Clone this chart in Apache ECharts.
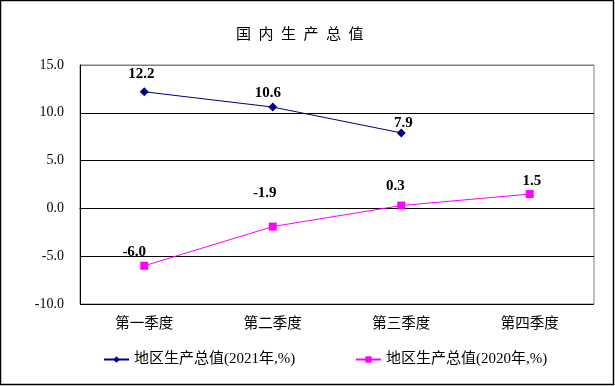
<!DOCTYPE html>
<html><head><meta charset="utf-8">
<script src="https://cdn.jsdelivr.net/npm/echarts@6/dist/echarts.min.js"></script>
<style>html,body{margin:0;padding:0;background:#fff}#c{width:615px;height:386px}</style>
</head><body><div id="c"></div>
<script>
const categories = ['第一季度', '第二季度', '第三季度', '第四季度'];
const gdp2021 = [12.2, 10.6, 7.9, null];
const gdp2020 = [-6.0, -1.9, 0.3, 1.5];
const name2021 = '地区生产总值(2021年,%)';
const name2020 = '地区生产总值(2020年,%)';
const titleText = '国\u2002内\u2002生\u2002产\u2002总\u2002值';
// label placement (style only): [dx, dy] from the point
const off2021 = [[-3, -18], [-5, -14], [2, -10], [0, 0]];
const off2020 = [[-10, -14], [-8, -33], [-6, -19], [2, -13]];

const SERIF = "'Liberation Serif', 'Times New Roman', 'Noto Sans CJK SC', serif";
const CJK = "'Noto Sans CJK SC', sans-serif";

const chart = echarts.init(document.getElementById('c'));
const lbl = {
  show: true, position: 'inside',
  fontFamily: SERIF, fontWeight: 'bold', fontSize: 15, color: '#000',
  formatter: p => p.value == null ? '' : Number(p.value).toFixed(1)
};
const mk = (vals, offs) => vals.map((v, i) => ({ value: v, label: { offset: offs[i] } }));
chart.setOption({
  animation: false,
  backgroundColor: '#fff',
  title: { text: titleText, left: 231, top: 21,
    textStyle: { fontFamily: CJK, fontWeight: 'normal', fontSize: 15, color: '#000' } },
  graphic: [{ type: 'rect', shape: { x: 0.5, y: 0.5, width: 613, height: 384 },
    style: { fill: 'none', stroke: '#000', lineWidth: 1.5 }, z: 100 }],
  grid: { left: 80, right: 21, top: 65, bottom: 82, show: true, borderColor: '#808080', borderWidth: 1 },
  legend: [
    { data: [name2021], left: 98, top: 347, itemWidth: 25, itemHeight: 8, itemGap: 4,
      textStyle: { fontFamily: SERIF, fontSize: 15, color: '#000' } },
    { data: [name2020], left: 350, top: 347, itemWidth: 25, itemHeight: 8,
      textStyle: { fontFamily: SERIF, fontSize: 15, color: '#000' } }
  ],
  xAxis: { type: 'category', data: categories, boundaryGap: true,
    axisLine: { lineStyle: { color: '#000' } }, axisTick: { show: false },
    axisLabel: { fontFamily: CJK, fontSize: 14.5, color: '#000', margin: 11 } },
  yAxis: { type: 'value', min: -10, max: 15, interval: 5,
    axisLine: { show: true, lineStyle: { color: '#000' } }, axisTick: { show: false },
    splitLine: { show: true, lineStyle: { color: ['#000', '#000', '#000', '#000', '#000', '#808080'] } },
    axisLabel: { fontFamily: SERIF, fontSize: 14, color: '#000', margin: 16,
      formatter: v => v.toFixed(1) } },
  series: [
    { name: name2021, type: 'line', data: mk(gdp2021, off2021), color: '#000080',
      symbol: 'diamond', symbolSize: 9, lineStyle: { width: 1, color: '#000080' },
      itemStyle: { color: '#000080' }, label: lbl },
    { name: name2020, type: 'line', data: mk(gdp2020, off2020), color: '#FF00FF',
      symbol: 'rect', symbolSize: 8, lineStyle: { width: 1, color: '#FF00FF' },
      itemStyle: { color: '#FF00FF' }, label: lbl }
  ]
});
</script></body></html>
